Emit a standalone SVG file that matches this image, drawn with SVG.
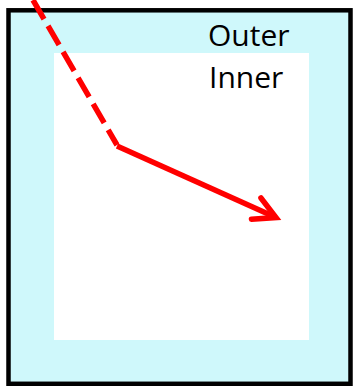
<svg xmlns="http://www.w3.org/2000/svg" width="354" height="386" viewBox="0 0 354 386">
  <style>
    .label { font-family: "Open Sans", "DejaVu Sans", sans-serif; font-size: 30px; fill: #000; }
    .conn { fill: none; stroke: #ff0000; stroke-width: 5.5; }
  </style>
  <defs>
    <marker id="chev" markerUnits="userSpaceOnUse" orient="auto" markerWidth="40" markerHeight="40" refX="0" refY="0" viewBox="-30 -20 40 40" overflow="visible">
      <path d="M -21.7 -11.6 L 0 0 L -21.7 11.6" fill="none" stroke="#ff0000" stroke-width="5.5" stroke-linecap="round" stroke-linejoin="miter"/>
    </marker>
  </defs>
  <rect width="354" height="386" fill="#ffffff"/>
  <g id="outer">
    <rect x="8.5" y="10.3" width="342" height="373.5" fill="#cff8fb" stroke="#000" stroke-width="4.5"/>
    <text class="label" x="208" y="46">Outer</text>
  </g>
  <g id="inner">
    <rect x="54" y="53" width="255" height="287" fill="#ffffff"/>
    <text class="label" x="209" y="88">Inner</text>
  </g>
  <g id="connectors">
    <line class="conn" x1="33" y1="0" x2="117" y2="145" stroke-dasharray="22 8"/>
    <line class="conn" x1="117" y1="146" x2="276" y2="217.5" marker-end="url(#chev)"/>
  </g>
</svg>
